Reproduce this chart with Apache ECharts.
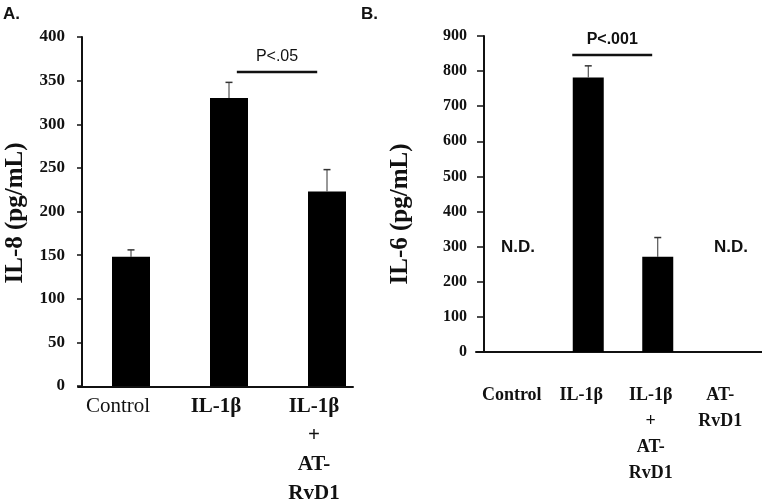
<!DOCTYPE html>
<html>
<head>
<meta charset="utf-8">
<script src="https://cdn.jsdelivr.net/npm/echarts@6/dist/echarts.min.js"></script>
<style>html,body{margin:0;padding:0;background:#fff}#c{width:762px;height:504px}</style>
</head>
<body>
<div id="c"></div>
<script>
// ---- data ----
var leftCategories = ['Control', 'IL-1β', 'IL-1β\n+\nAT-\nRvD1'];
var leftValues = [148, 330, 223];
var leftErrors = [8, 18, 25];
var leftTicks = { min: 0, max: 400, interval: 50 };
var leftSig = [[1, 0.08, 2, -0.10, 360]];
var leftSigText = ['P<.05'];

var rightCategories = ['Control', 'IL-1β', 'IL-1β\n+\nAT-\nRvD1', 'AT-\nRvD1'];
var rightValues = [null, 782, 271, null];
var rightErrors = [null, 33, 55, null];
var rightTicks = { min: 0, max: 900, interval: 100 };
var rightSig = [[1, -0.23, 2, -0.08, 846]];
var rightSigText = ['P<.001'];

var SERIF = 'Liberation Serif';
var SANS = 'Liberation Sans';

function errData(vals, errs) {
  var out = [];
  vals.forEach(function (v, i) { if (v != null && errs[i] != null) out.push([i, v, errs[i]]); });
  return out;
}
function errRender(params, api) {
  var x = api.value(0), v = api.value(1), e = api.value(2);
  var p0 = api.coord([x, v]);
  var p1 = api.coord([x, v + e]);
  var hw = 3.5;
  return {
    type: 'group',
    children: [
      { type: 'line', shape: { x1: p0[0], y1: p0[1], x2: p1[0], y2: p1[1] }, style: { stroke: '#333', lineWidth: 1 } },
      { type: 'line', shape: { x1: p1[0] - hw, y1: p1[1], x2: p1[0] + hw, y2: p1[1] }, style: { stroke: '#333', lineWidth: 1.5 } }
    ]
  };
}
function sigRender(texts, fontWeight) {
  return function (params, api) {
    var band = api.size([1, 0])[0];
    var a = api.coord([api.value(0), api.value(4)]);
    var b = api.coord([api.value(2), api.value(4)]);
    var x1 = a[0] + api.value(1) * band;
    var x2 = b[0] + api.value(3) * band;
    var y = a[1];
    return {
      type: 'group',
      children: [
        { type: 'line', shape: { x1: x1, y1: y, x2: x2, y2: y }, style: { stroke: '#111', lineWidth: 2.5 } },
        { type: 'text', x: (x1 + x2) / 2, y: y - 15,
          style: { text: texts[params.dataIndex], textAlign: 'center', textVerticalAlign: 'middle',
                   fontFamily: SANS, fontSize: 16, fontWeight: fontWeight, fill: '#111' } }
      ]
    };
  };
}
function labelFmt(v) {
  var w = v === 'Control' ? 'n' : 'b';
  return v.split('\n').map(function (s) { return '{' + w + '|' + s + '}'; }).join('\n');
}

var chart = echarts.init(document.getElementById('c'), null, { renderer: 'canvas' });
var option = {
  animation: false,
  backgroundColor: '#fff',
  grid: [
    { left: 82, top: 37, bottom: 117, width: 294 },
    { left: 78, top: 37, bottom: 117, width: 275 },
    { left: 484, top: 36, bottom: 152, width: 296 },
    { left: 476, top: 36, bottom: 152, right: 0 }
  ],
  xAxis: [
    { type: 'category', gridIndex: 0, data: leftCategories,
      axisLine: { show: false }, axisTick: { show: false },
      axisLabel: { margin: 6, padding: [0, 26, 0, 0], formatter: labelFmt,
        rich: {
          n: { fontFamily: SERIF, fontSize: 21, fontWeight: 'normal', color: '#111', lineHeight: 29 },
          b: { fontFamily: SERIF, fontSize: 21, fontWeight: 'bold', color: '#111', lineHeight: 29 }
        } } },
    { type: 'value', gridIndex: 1, min: 0, max: 1,
      axisLine: { show: true, lineStyle: { color: '#111', width: 2 } },
      axisTick: { show: false }, axisLabel: { show: false }, splitLine: { show: false } },
    { type: 'category', gridIndex: 2, data: rightCategories,
      axisLine: { show: false }, axisTick: { show: false },
      axisLabel: { margin: 30, padding: [0, 14, 0, 0], interval: 0,
        formatter: function (v) { return v.split('\n').map(function (s) { return '{b|' + s + '}'; }).join('\n'); },
        rich: { b: { fontFamily: SERIF, fontSize: 18, fontWeight: 'bold', color: '#111', lineHeight: 26 } } } },
    { type: 'value', gridIndex: 3, min: 0, max: 1,
      axisLine: { show: true, lineStyle: { color: '#111', width: 2 } },
      axisTick: { show: false }, axisLabel: { show: false }, splitLine: { show: false } }
  ],
  yAxis: [
    { type: 'value', gridIndex: 0, min: leftTicks.min, max: leftTicks.max, interval: leftTicks.interval,
      axisLine: { show: true, lineStyle: { color: '#111', width: 2 } },
      axisTick: { show: true, length: 5, lineStyle: { color: '#111', width: 1.5 } },
      splitLine: { show: false },
      axisLabel: { margin: 17, fontFamily: SERIF, fontSize: 17, fontWeight: 'bold', color: '#111' } },
    { type: 'value', gridIndex: 1, min: 0, max: 1, show: false },
    { type: 'value', gridIndex: 2, min: rightTicks.min, max: rightTicks.max, interval: rightTicks.interval,
      axisLine: { show: true, lineStyle: { color: '#111', width: 2 } },
      axisTick: { show: true, length: 7, lineStyle: { color: '#111', width: 1.5 } },
      splitLine: { show: false },
      axisLabel: { margin: 17, fontFamily: SERIF, fontSize: 16, fontWeight: 'bold', color: '#111' } },
    { type: 'value', gridIndex: 3, min: 0, max: 1, show: false }
  ],
  series: [
    { type: 'bar', xAxisIndex: 0, yAxisIndex: 0, data: leftValues, barWidth: 38, itemStyle: { color: '#000' } },
    { type: 'custom', xAxisIndex: 0, yAxisIndex: 0, data: errData(leftValues, leftErrors), renderItem: errRender, z: 3 },
    { type: 'custom', xAxisIndex: 0, yAxisIndex: 0, data: leftSig, renderItem: sigRender(leftSigText, 'normal'), z: 3 },
    { type: 'bar', xAxisIndex: 2, yAxisIndex: 2, data: rightValues, barWidth: 31, itemStyle: { color: '#000' } },
    { type: 'custom', xAxisIndex: 2, yAxisIndex: 2, data: errData(rightValues, rightErrors), renderItem: errRender, z: 3 },
    { type: 'custom', xAxisIndex: 2, yAxisIndex: 2, data: rightSig, renderItem: sigRender(rightSigText, 'bold'), z: 3 }
  ],
  graphic: [
    { type: 'text', left: 3, top: 6, style: { text: 'A.', fontFamily: SANS, fontSize: 17, fontWeight: 'bold', fill: '#111' } },
    { type: 'text', left: 361, top: 6, style: { text: 'B.', fontFamily: SANS, fontSize: 17, fontWeight: 'bold', fill: '#111' } },
    { type: 'text', x: 16, y: 213, rotation: Math.PI / 2,
      style: { text: 'IL-8 (pg/mL)', textAlign: 'center', textVerticalAlign: 'middle', fontFamily: SERIF, fontSize: 25, fontWeight: 'bold', fill: '#111' } },
    { type: 'text', x: 401, y: 214, rotation: Math.PI / 2,
      style: { text: 'IL-6 (pg/mL)', textAlign: 'center', textVerticalAlign: 'middle', fontFamily: SERIF, fontSize: 25, fontWeight: 'bold', fill: '#111' } },
    { type: 'text', x: 518, y: 247,
      style: { text: 'N.D.', textAlign: 'center', textVerticalAlign: 'middle', fontFamily: SANS, fontSize: 17, fontWeight: 'bold', fill: '#111' } },
    { type: 'text', x: 731, y: 247,
      style: { text: 'N.D.', textAlign: 'center', textVerticalAlign: 'middle', fontFamily: SANS, fontSize: 17, fontWeight: 'bold', fill: '#111' } }
  ]
};
chart.setOption(option);
</script>
</body>
</html>
